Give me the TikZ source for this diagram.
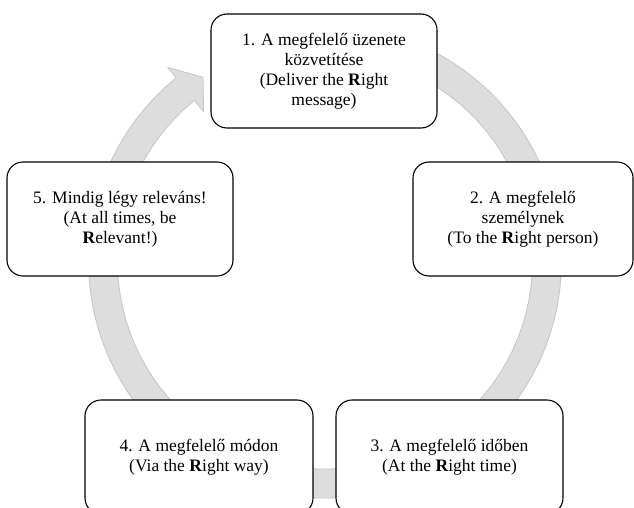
\documentclass[tikz,border=0pt]{standalone}
\usepackage{fontspec}
\setmainfont{Liberation Serif}
\definecolor{ringgray}{HTML}{DDDDDD}
\definecolor{ringedge}{HTML}{C6C6C6}
\begin{document}
\begin{tikzpicture}[x=1pt,y=-1pt,
  stage/.style={draw=black,line width=1.1pt,fill=white,rounded corners=16pt,
    minimum width=226pt,minimum height=114pt,align=center,inner sep=2pt,
    font=\fontsize{17.5}{20}\selectfont},
  ring/.style={fill=ringgray,draw=ringedge,line width=0.8pt}]
  \useasboundingbox (0,0) rectangle (634,508);
  \clip (0,0) rectangle (634,508);
  \coordinate (ctr) at (325,261.6);
  % cycle arrow behind the boxes (y points down, so angles run clockwise)
  \begin{scope}[shift={(ctr)}]
    \draw[ring] plot[domain=-85:231,samples=90] (\x:236.5)
      -- (231:250) -- (236.5:221) -- (231:193)
      -- plot[domain=231:-85,samples=90] (\x:207.5) -- cycle;
  \end{scope}
  % the five steps
  \node[stage] (msg) at (324,71) {1. A megfelelő üzenete\\közvetítése\\(Deliver the \textbf{R}ight\\message)};
  \node[stage,minimum width=220pt] (person) at (523,219) {2. A megfelelő\\személynek\\(To the \textbf{R}ight person)};
  \node[stage,minimum width=227pt] (time) at (449.5,457) {3. A megfelelő időben\\(At the \textbf{R}ight time)};
  \node[stage,minimum width=228pt] (way) at (199,457) {4. A megfelelő módon\\(Via the \textbf{R}ight way)};
  \node[stage] (rel) at (120,219) {5. Mindig légy releváns!\\(At all times, be\\\textbf{R}elevant!)};
\end{tikzpicture}
\end{document}
